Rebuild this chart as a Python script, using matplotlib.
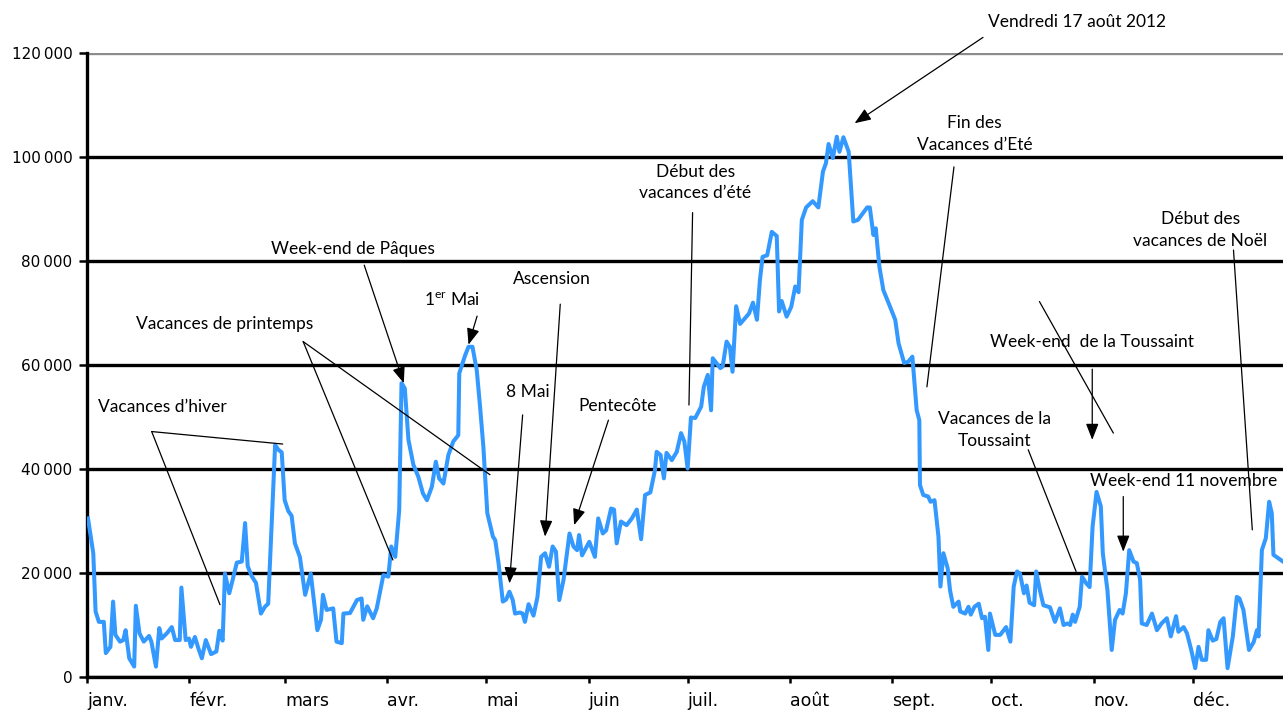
"""Daily visitors over 2012 with the holiday annotations."""

import matplotlib

matplotlib.use("Agg")
import matplotlib.pyplot as plt
import numpy as np
from matplotlib.ticker import FuncFormatter

# day of year (0 = 1 Jan 2012) and visitors in thousands
DAYS = [
    0.3, 1.9, 2.6, 3.6, 5.1, 5.7, 7.1, 7.9, 8.6, 10.0, 11.0, 11.7, 12.8, 14.3, 14.8,
    15.9, 17.2, 18.8, 19.5, 20.9, 21.9, 22.6, 24.2, 25.7, 26.7, 28.1, 28.6, 29.9, 30.9,
    31.5, 32.7, 33.7, 34.8, 36.0, 37.6, 39.2, 40.1, 41.1, 41.8, 43.1, 44.1, 45.4, 46.9,
    47.9, 48.7, 49.9, 51.2, 52.7, 53.9, 54.9, 57.0, 58.0, 59.0, 59.9, 61.0, 62.0, 63.0,
    64.5, 66.1, 67.8, 69.8, 70.9, 71.5, 72.6, 74.6, 75.6, 77.2, 77.7, 79.7, 81.8, 83.2,
    83.7, 84.9, 86.7, 87.8, 89.8, 91.3, 92.2, 93.4, 94.6, 95.3, 96.3, 97.4, 98.9, 100.4,
    101.8, 103.0, 104.5, 105.7, 106.7, 108.0, 109.5, 111.0, 112.5, 112.8, 114.6, 115.6,
    116.8, 118.1, 119.1, 120.1, 121.3, 123.0, 123.7, 124.7, 126.0, 127.0, 128.0, 129.0,
    129.7, 131.2, 132.0, 132.7, 133.8, 135.3, 136.5, 137.6, 138.8, 140.0, 141.1, 142.1,
    143.1, 144.4, 146.2, 147.4, 148.5, 149.1, 150.0, 152.2, 153.9, 154.9, 156.3, 157.3,
    158.8, 159.7, 160.5, 161.8, 163.5, 165.1, 166.6, 167.9, 169.1, 170.7, 172.1, 172.6,
    173.8, 174.8, 175.6, 177.2, 178.7, 180.0, 181.0, 182.0, 183.0, 184.3, 186.1, 186.9,
    188.1, 189.1, 189.6, 191.9, 192.6, 193.8, 194.8, 195.6, 196.7, 197.9, 199.4, 200.6,
    201.8, 203.0, 203.9, 204.7, 206.1, 207.5, 209.0, 209.7, 210.5, 212.0, 213.4, 214.6,
    215.6, 216.6, 217.9, 219.9, 221.6, 223.0, 223.9, 224.7, 226.0, 227.2, 228.0, 229.2,
    230.8, 232.2, 233.6, 236.4, 237.2, 238.3, 239.0, 240.1, 241.3, 242.9, 244.9, 245.9,
    247.6, 248.8, 250.1, 251.4, 252.2, 252.4, 253.4, 254.9, 255.6, 256.8, 258.0, 258.6,
    259.5, 260.8, 261.5, 262.5, 264.1, 264.6, 266.1, 267.1, 267.8, 268.9, 270.2, 271.2,
    272.1, 273.1, 273.6, 275.2, 276.7, 278.5, 279.8, 280.8, 281.8, 282.7, 283.9, 284.7,
    285.6, 287.0, 287.6, 288.8, 289.8, 291.8, 293.3, 294.8, 295.9, 297.1, 297.9, 298.7,
    299.4, 300.8, 301.5, 302.8, 303.8, 304.7, 305.9, 307.2, 307.8, 309.2, 310.5, 311.5,
    312.9, 313.8, 314.8, 315.8, 317.1, 318.1, 319.1, 319.6, 321.1, 322.7, 324.2, 325.6,
    327.2, 328.4, 330.0, 330.7, 332.3, 333.3, 334.6, 335.8, 336.8, 337.8, 339.1, 339.8,
    341.1, 342.2, 343.4, 344.4, 345.6, 347.2, 348.4, 349.2, 350.4, 352.1, 353.5, 354.5,
    355.0, 356.0, 357.2, 358.2, 359.0, 359.5, 362.4,
]
VISITS_K = [
    30.5, 23.8, 12.6, 10.6, 10.6, 4.6, 5.8, 14.5, 8.1, 6.8, 7.1, 9.0, 3.6, 2.0, 13.7,
    8.4, 6.8, 7.9, 6.8, 2.0, 9.4, 7.4, 8.4, 9.6, 7.1, 7.1, 17.2, 7.1, 7.4,
    5.8, 7.7, 5.6, 3.6, 7.1, 4.4, 4.9, 8.9, 7.0, 19.9, 16.1, 18.6, 22.0, 22.2,
    29.6, 21.3, 19.4, 18.1, 12.2, 13.5, 14.1, 44.6, 43.7, 43.2, 34.0, 31.9, 31.0, 25.7,
    23.1, 15.8, 19.9, 9.0, 11.0, 15.8, 12.9, 13.2, 6.8, 6.5, 12.2, 12.3, 14.8, 15.1,
    11.0, 13.6, 11.3, 13.2, 19.6, 19.3, 25.1, 23.1, 32.1, 56.5, 55.5, 45.6, 40.8, 38.5,
    35.3, 34.0, 36.6, 41.4, 38.2, 37.2, 42.7, 45.3, 46.5, 58.4, 61.9, 63.5,
    63.5, 59.0, 52.0, 44.3, 31.5, 27.0, 26.3, 21.9, 14.5, 14.9, 16.4, 14.8,
    12.2, 12.4, 12.2, 10.6, 14.0, 11.8, 15.4, 23.1, 23.8, 21.2, 25.1, 24.1,
    14.8, 18.7, 27.6, 25.1, 24.4, 27.3, 23.4, 26.0, 23.1, 30.5, 27.6, 28.2,
    32.4, 32.2, 25.7, 29.9, 29.2, 30.5, 32.2, 26.5, 35.0, 35.5, 39.8, 43.3,
    42.7, 38.2, 43.1, 41.7, 43.3, 46.9, 45.3, 40.1, 49.9, 49.8, 52.0, 55.8,
    58.1, 51.3, 61.3, 59.4, 59.7, 64.5, 63.5, 58.7, 71.3, 67.9, 69.0, 69.9,
    72.0, 68.7, 76.3, 80.8, 81.1, 85.6, 84.8, 70.3, 72.3, 69.3, 71.2, 75.1,
    74.0, 87.9, 90.3, 91.5, 90.3, 97.2, 98.8, 102.5, 99.8, 103.9, 101.0, 103.8,
    101.0, 87.6, 87.9, 90.3, 90.3, 85.0, 86.3, 78.9, 74.4, 71.9, 68.7, 64.2,
    60.4, 60.6, 61.6, 51.3, 49.4, 36.9, 35.0, 34.7, 33.7, 34.0, 27.0, 17.4,
    23.8, 20.9, 16.7, 13.5, 14.5, 12.6, 12.2, 13.5, 12.0, 13.5, 14.1, 11.3,
    11.6, 5.2, 12.2, 8.1, 8.1, 9.6, 6.8, 17.4, 20.3, 19.9, 16.1, 17.6,
    14.3, 13.8, 20.3, 16.5, 13.8, 13.4, 10.6, 13.2, 10.0, 10.3, 10.0, 12.0,
    10.6, 13.5, 19.3, 18.0, 17.3, 28.9, 35.6, 32.8, 23.8, 16.7, 5.2, 11.0,
    12.9, 12.2, 16.1, 24.4, 22.2, 21.9, 18.7, 10.3, 10.0, 12.2, 9.0, 10.3,
    11.3, 7.8, 11.7, 8.7, 9.6, 8.4, 5.2, 1.7, 5.8, 3.3, 3.3, 9.0,
    7.0, 7.3, 10.6, 11.3, 1.7, 7.8, 15.4, 15.1, 12.9, 5.2, 6.7, 9.0,
    7.8, 24.4, 26.7, 33.7, 31.5, 23.5, 22.2,
]
MONTH_STARTS = [0, 31, 60, 91, 121, 152, 182, 213, 244, 274, 305, 335]
MONTHS = ["janv.", "févr.", "mars", "avr.", "mai", "juin",
          "juil.", "août", "sept.", "oct.", "nov.", "déc."]

NOTE_FONT = ["Lato", "DejaVu Sans"]
TICK_FONT = ["DejaVu Sans"]


def main() -> None:
    visits = np.array(VISITS_K) * 1000

    fig = plt.figure(figsize=(12.83, 7.14), dpi=100)
    ax = fig.add_axes([87 / 1283, 37 / 714, 1196 / 1283, 624 / 714])

    ax.plot(DAYS, visits, color="#3399ff", lw=2.9, solid_joinstyle="round", zorder=3)

    ax.set_xlim(0, 362.4)
    ax.set_ylim(0, 120000)
    ax.set_yticks(range(0, 120001, 20000))
    ax.yaxis.set_major_formatter(
        FuncFormatter(lambda v, _: f"{int(v):,}".replace(",", "\u2009"))
    )
    ax.set_xticks(MONTH_STARTS)
    ax.set_xticklabels(MONTHS, ha="left")

    ax.grid(axis="y", color="black", lw=2.4)
    ax.set_axisbelow(True)
    ax.get_ygridlines()[-1].set_color("#8c8c8c")

    for side in ("top", "right"):
        ax.spines[side].set_visible(False)
    for side in ("left", "bottom"):
        ax.spines[side].set_linewidth(2.4)
    ax.tick_params(axis="both", direction="out", width=1.8)
    ax.tick_params(axis="y", length=5.5, pad=5, labelsize=11)
    ax.tick_params(axis="x", length=4, pad=7, labelsize=12.5)
    for lab in ax.get_xticklabels() + ax.get_yticklabels():
        lab.set_family(TICK_FONT)

    # text labels: (text, position)
    texts = [
        ("Vendredi 17 août 2012", (299.9, 126000)),
        ("Fin des\nVacances d\u2019Eté", (268.9, 104500)),
        ("Début des\nvacances d\u2019été", (184.3, 95100)),
        ("Début des\nvacances de Noël", (337.3, 85900)),
        ("Week-end de Pâques", (80.6, 82300)),
        ("1$^{\\mathregular{er}}$ Mai", (110.5, 72400)),
        ("Ascension", (141.0, 76500)),
        ("Vacances de printemps", (41.6, 67900)),
        ("Vacances d\u2019hiver", (22.7, 52000)),
        ("8 Mai", (133.6, 54900)),
        ("Pentecôte", (160.8, 52100)),
        ("Week-end  de la Toussaint", (304.6, 64500)),
        ("Vacances de la\nToussaint", (274.9, 47500)),
        ("Week-end 11 novembre", (332.4, 37600)),
    ]
    for txt, (x, y) in texts:
        ax.text(x, y, txt, ha="center", va="center", fontsize=12.5,
                family=NOTE_FONT, linespacing=1.45, clip_on=False)

    # pointers: (start, end, with arrow head)
    pointers = [
        ((271.5, 123000), (232.6, 106500), True),
        ((262.7, 98100), (254.5, 55800), False),
        ((183.5, 89300), (182.4, 52300), False),
        ((347.4, 82100), (353.1, 28300), False),
        ((84.0, 79200), (96.0, 56500), True),
        ((118.2, 69400), (115.6, 63900), True),
        ((143.4, 71700), (138.8, 27000), True),
        ((65.5, 64500), (92.7, 22500), False),
        ((65.5, 64500), (122.1, 38900), False),
        ((19.6, 47200), (59.3, 44800), False),
        ((19.6, 47200), (40.3, 13900), False),
        ((132.0, 50400), (128.0, 18000), True),
        ((158.0, 49400), (147.6, 29200), True),
        ((304.6, 59200), (304.6, 45600), True),
        ((288.6, 72200), (311.0, 46900), False),
        ((285.2, 43700), (299.7, 20300), False),
        ((314.0, 34700), (314.0, 24100), True),
    ]
    for start, end, head in pointers:
        style = "-|>,head_length=0.9,head_width=0.35" if head else "-"
        ax.annotate(
            "", xy=end, xytext=start, annotation_clip=False,
            arrowprops=dict(arrowstyle=style, color="black", lw=0.9,
                            mutation_scale=11, shrinkA=0, shrinkB=0),
        )

    fig.savefig("out.png", dpi=100)


if __name__ == "__main__":
    main()
